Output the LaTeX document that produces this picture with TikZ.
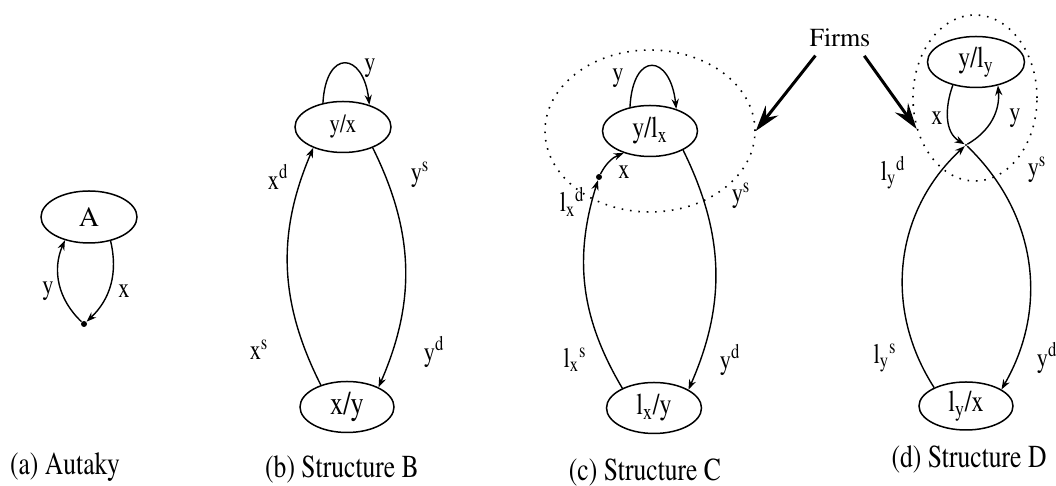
\documentclass[tikz,border=0pt]{standalone}
\usepackage[T1]{fontenc}
\usepackage{mathptmx}
\usepackage{graphicx}
\usetikzlibrary{calc,shapes.geometric,arrows.meta}
\newcommand{\narrow}[1]{\scalebox{0.8}[1]{#1}}

\begin{document}
\begin{tikzpicture}[x=5pt, y=5pt]
\tikzset{market/.style={ellipse,draw,line width=0.75pt,inner sep=0,minimum width=48pt,minimum height=25.5pt,font=\fontsize{15}{17}\selectfont},
firmzone/.style={ellipse,draw,line width=0.8pt,dash pattern=on 0.8pt off 3.4pt,inner sep=0},
trader/.style={circle,fill,inner sep=0,minimum size=3pt},
flow/.style={line width=0.7pt,-{Stealth[length=5pt,width=3.6pt]}},
firmarrow/.style={line width=1.5pt,shorten <=4pt,-{Stealth[length=13pt,width=8pt,inset=4.5pt]}},
edgelabel/.style={font=\fontsize{14}{16}\selectfont,inner sep=0},
caption/.style={font=\fontsize{16}{18}\selectfont,inner sep=0}}

\useasboundingbox (0,0) rectangle (105.6,48.6);

% (a)
\node (A) [market, minimum height=26pt, font=\fontsize{14}{16}\selectfont] at (8.9,26.9) {A};
\node (tA) [trader] at (8.4,16.2) {};

% (b)
\node (yx) [market, font=\fontsize{13}{15}\selectfont] at (34.3,35.9) {\narrow{y/x}};
\node (xy) [market, minimum width=47pt, font=\fontsize{16.5}{18}\selectfont] at (34.7,7.9) {\narrow{x/y}};

% (c)
\node (ylx) [market, minimum width=47.5pt] at (65.0,35.5) {\narrow{y/l\textsubscript{x}}};
\node (firmC) [firmzone, minimum width=105pt, minimum height=81pt] at (65.0,35.5) {};
\node (tC) [trader] at (59.9,30.9) {};
\node (lxy) [market, minimum width=47.5pt] at (65.4,7.8) {\narrow{l\textsubscript{x}/y}};

% (d)
\node (yly) [market, minimum width=48.5pt] at (97.6,42.4) {\narrow{y/l\textsubscript{y}}};
\node (firmD) [firmzone, minimum width=62pt, minimum height=83pt] at (97.5,38.8) {};
\node (tD) [trader, minimum size=1.2pt] at (96.6,34.1) {};
\node (lyx) [market, minimum width=47pt, minimum height=24pt] at (96.6,8.0) {\narrow{l\textsubscript{y}/x}};

\node (firms) [font=\fontsize{13}{15}\selectfont, inner sep=1pt] at (84.0,44.8) {Firms};

%% Edges
\draw[flow] (tA) to[bend left=35] (A.224);
\draw[flow] (A.312) to[bend left=30] (tA);

\draw[flow] (yx.130) .. controls +(0.3,5.5) and +(-0.6,5.3) .. (yx.40);
\draw[flow] (xy.140) to[bend left=25] (yx.215);
\draw[flow] (yx.-35) to[bend left=25] (xy.32);

\draw[flow] (ylx.130) .. controls +(0.3,5.7) and +(-0.6,5.5) .. (ylx.40);
\draw[flow] (tC) to[bend left=20] (ylx.220);
\draw[flow] (lxy.148) to[bend left=24] (tC);
\draw[flow] (ylx.-30) to[bend left=25] (lxy.28);

\draw[flow] (yly.225) to[out=-110,in=150] (tD);
\draw[flow] (tD) to[out=30,in=-85] (yly.313);
\draw[flow] (lyx.150) to[bend left=40] (tD);
\draw[flow] (tD) to[bend left=38] (lyx.25);

\draw[firmarrow] ($(firms.south)!0.6!(firms.south west)$) -- (firmC.east);
\draw[firmarrow] ($(firms.south)!0.6!(firms.south east)$) -- (firmD.208);

%% Labels
\foreach \u/\px/\py/\lab in {lyA/4.8/19.5/y, lxA/12.4/19.5/x,
  lyB/37.0/41.8/y, lxdB/27.8/30.9/x\textsuperscript{d}, lysB/42.0/31.1/y\textsuperscript{s},
  lxsB/25.9/13.6/x\textsuperscript{s}, lydB/43.4/13.4/y\textsuperscript{d},
  lyC/61.8/40.8/y, lxC/62.4/31.4/x, lldC/57.2/28.4/l\textsubscript{x}\textsuperscript{d},
  lysC/74.1/29.0/y\textsuperscript{s}, llsC/57.5/12.6/l\textsubscript{x}\textsuperscript{s},
  lydC/73.0/12.6/y\textsuperscript{d},
  lxD/93.7/36.8/x, lyD/101.5/36.8/y, lldD/89.3/31.3/l\textsubscript{y}\textsuperscript{d},
  lysD/103.7/31.6/y\textsuperscript{s}, llsD/88.5/12.8/l\textsubscript{y}\textsuperscript{s},
  lydD/104.7/12.8/y\textsuperscript{d}}
  \node (\u) [edgelabel] at (\px,\py) {\narrow{\lab}};

\node (capA) [caption] at (6.5,1.9) {\narrow{(a) Autaky}};
\node (capB) [caption] at (34.2,1.6) {\narrow{(b) Structure B}};
\node (capC) [caption] at (64.5,1.3) {\narrow{(c) Structure C}};
\node (capD) [caption] at (96.9,2.6) {\narrow{(d) Structure D}};

\end{tikzpicture}
\end{document}
